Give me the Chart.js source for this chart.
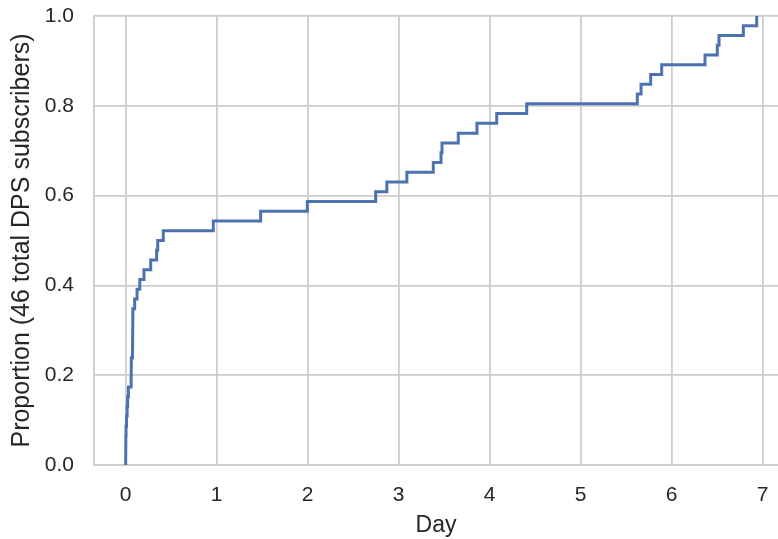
<!DOCTYPE html>
<html>
<head>
<meta charset="utf-8">
<script src="https://cdn.jsdelivr.net/npm/chart.js@4"></script>
<style>
  html, body { margin: 0; padding: 0; background: #ffffff; }
  #wrap { width: 778px; height: 539px; position: relative; }
</style>
</head>
<body>
<div id="wrap"><canvas id="ecdfChart"></canvas></div>
<script>
// day at which each of the 46 DPS subscribers subscribed (sorted)
const subscriberDays = [
    0.000, 0.001, 0.002, 0.004, 0.009, 0.016, 0.022, 0.030,
    0.060, 0.061, 0.062, 0.075, 0.076, 0.077, 0.078, 0.079,
    0.099, 0.125, 0.155, 0.201, 0.275, 0.340, 0.352, 0.413,
    0.963, 1.483, 1.996, 2.747, 2.870, 3.090, 3.380, 3.465,
    3.476, 3.655, 3.860, 4.077, 4.407, 5.622, 5.663, 5.769,
    5.890, 6.366, 6.501, 6.520, 6.787, 6.934
];
const xTicks = [0, 1, 2, 3, 4, 5, 6, 7];
const yTicks = [0.0, 0.2, 0.4, 0.6, 0.8, 1.0];

const textColor = '#262626';
const gridColor = '#cccccc';
const fontFamily = '"Liberation Sans", Arial, sans-serif';

// empirical cumulative proportion, starting from 0 at the first subscriber
const total = subscriberDays.length;
const ecdfPoints = [{ x: subscriberDays[0], y: 0 }];
subscriberDays.forEach((d, i) => {
    ecdfPoints.push({ x: d, y: (i + 1) / total });
});

const ctx = document.getElementById('ecdfChart').getContext('2d');
new Chart(ctx, {
    type: 'line',
    data: {
        datasets: [{
            data: ecdfPoints,
            borderColor: '#4c72b0',
            borderWidth: 3,
            pointRadius: 0,
            stepped: true,
            fill: false,
            clip: 4
        }]
    },
    options: {
        responsive: true,
        maintainAspectRatio: false,
        animation: false,
        layout: { padding: { top: 16, left: 0, right: 0, bottom: 0 } },
        plugins: {
            legend: { display: false },
            tooltip: { enabled: false }
        },
        scales: {
            x: {
                type: 'linear',
                min: -0.348,
                max: 7.168,
                afterBuildTicks: (scale) => {
                    scale.ticks = xTicks.map(v => ({ value: v }));
                },
                // fixed axis box so the plot area lines up with the reference
                afterFit: (scale) => {
                    scale.height = 74;
                    scale.paddingLeft = 0;
                    scale.paddingRight = 0;
                },
                grid: { color: gridColor, lineWidth: 1.8, drawTicks: false },
                border: { color: gridColor, width: 1.8 },
                ticks: {
                    color: textColor,
                    font: { family: fontFamily, size: 21 },
                    padding: 18
                },
                title: {
                    display: true,
                    text: 'Day',
                    color: textColor,
                    font: { family: fontFamily, size: 23 },
                    padding: { top: 8, bottom: 0 }
                }
            },
            y: {
                type: 'linear',
                min: 0,
                max: 1,
                afterBuildTicks: (scale) => {
                    scale.ticks = yTicks.map(v => ({ value: v }));
                },
                afterFit: (scale) => {
                    scale.width = 94;
                    scale.paddingTop = 0;
                    scale.paddingBottom = 0;
                },
                grid: { color: gridColor, lineWidth: 1.8, drawTicks: false },
                border: { color: gridColor, width: 1.8 },
                ticks: {
                    color: textColor,
                    font: { family: fontFamily, size: 21 },
                    padding: 20,
                    callback: (v) => Number(v).toFixed(1)
                },
                title: {
                    display: true,
                    text: 'Proportion (46 total DPS subscribers)',
                    color: textColor,
                    font: { family: fontFamily, size: 25 },
                    padding: { top: 7, bottom: 0 }
                }
            }
        }
    }
});
</script>
</body>
</html>
